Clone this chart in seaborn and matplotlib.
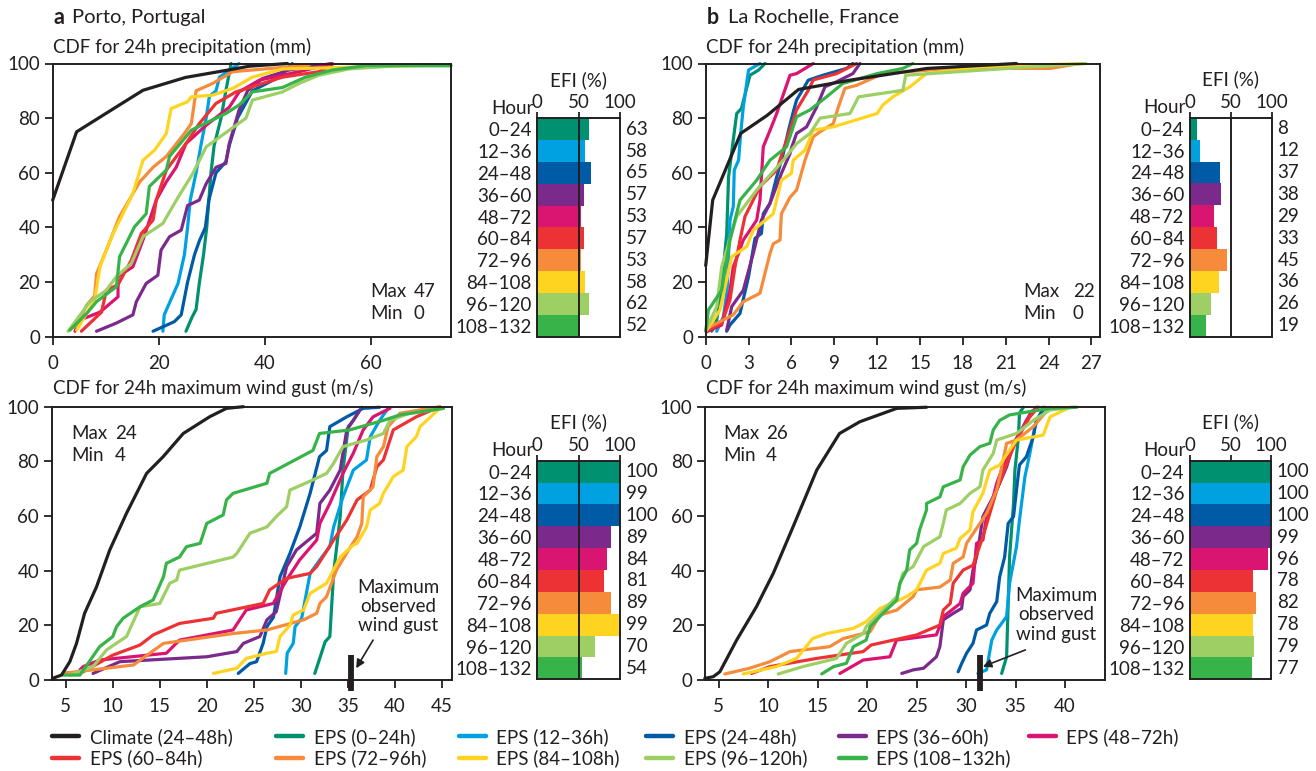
import matplotlib
matplotlib.use("Agg")
import matplotlib.pyplot as plt
from matplotlib.lines import Line2D
import pandas as pd
import seaborn as sns

# ---------------------------------------------------------------- series
SERIES = ["Climate (24–48h)", "EPS (0–24h)", "EPS (12–36h)", "EPS (24–48h)",
          "EPS (36–60h)", "EPS (48–72h)", "EPS (60–84h)", "EPS (72–96h)",
          "EPS (84–108h)", "EPS (96–120h)", "EPS (108–132h)"]
COLORS = ["#231f20", "#009270", "#00a1e1", "#005ba7", "#7b2a8c", "#da1471",
          "#ec3235", "#f68b3b", "#fed420", "#9dcf64", "#37b34a"]
HOURS = ["0–24", "12–36", "24–48", "36–60", "48–72", "60–84", "72–96",
         "84–108", "96–120", "108–132"]

# EFI values (%) per forecast window
efi_porto_precip = [63, 58, 65, 57, 53, 57, 53, 58, 62, 52]
efi_porto_gust = [100, 99, 100, 89, 84, 81, 89, 99, 70, 54]
efi_lr_precip = [8, 12, 37, 38, 29, 33, 45, 36, 26, 19]
efi_lr_gust = [100, 100, 100, 99, 96, 78, 82, 78, 79, 77]

# CDF curves: (values, cumulative %) for each series, in SERIES order
porto_precip = [
    ([0, 4.5, 10, 17, 25, 33, 37, 44.2], [50, 75, 81.7, 90.2, 94.9, 97.6, 99, 100]),
    ([25.1, 26.2, 27.0, 27.6, 28.4, 29.0, 29.4, 29.8, 30.4, 31.7, 32.6, 33.6],
     [2, 7, 10, 19.5, 30, 40, 50, 60, 70, 80, 90, 100]),
    ([20.75, 21.0, 23.6, 24.8, 25.4, 25.9, 27.0, 27.9, 28.9, 29.5, 30.75, 31.4, 35.1],
     [2, 8, 19.5, 30, 40, 50, 60, 70, 80, 88, 90, 95, 100]),
    ([18.9, 22.9, 24.2, 25.4, 26.7, 27.6, 28.75, 29.4, 30.75, 32.6, 33.25, 34.8, 37.6, 42.6, 45.1],
     [2, 5.5, 8, 20, 30, 35, 40, 50, 60, 64, 70, 80, 90, 95, 100]),
    ([8.25, 12, 15.1, 15.75, 17.6, 19.8, 20.4, 22, 24.2, 25.4, 27.6, 28.9, 30.75, 32.6, 33.25,
      35.1, 36.7, 39.5, 44.5, 52.6],
     [2, 5, 8, 12.8, 19.5, 22.5, 31.7, 36.6, 39, 48, 50, 56, 62, 63.4, 70.7, 83, 90, 94.5, 97.6, 100]),
    ([4.2, 5, 8.9, 12.3, 12.3, 15.1, 17, 19.5, 21.4, 23.25, 25.1, 28.9, 33.25, 35.1, 38.9, 46.4, 52.6],
     [2, 6, 9, 14.6, 22, 25.6, 35.4, 50, 56.7, 62, 70.7, 77.4, 84, 89.6, 93.9, 97, 100]),
    ([5.4, 9.2, 10.1, 12.3, 14.8, 16.7, 18.9, 19.5, 21.4, 25.1, 27.6, 30.75, 34.5, 37.6, 43.25, 50.1, 52.6],
     [2, 9, 17, 19, 28, 37.8, 42.7, 50, 61, 70.7, 78, 85.4, 89.6, 91.5, 95, 97, 99.4]),
    ([4.5, 6.4, 7.9, 8.25, 10.1, 12.6, 16.4, 18.9, 21.4, 24.8, 26.1, 27, 30.1, 33.9, 48.25],
     [3.7, 11.6, 15, 23, 31.7, 44, 56.7, 62, 66, 74.4, 78, 90, 92.7, 97, 99.4]),
    ([4.5, 7.9, 8.9, 11.4, 15.1, 17, 19.2, 21.4, 22.3, 25.4, 26.1, 30.1, 33.9, 37.6, 43.25, 71.4],
     [2.4, 13.4, 25.6, 37.8, 52.4, 64.6, 68.3, 74.4, 83.5, 86, 87.8, 88.4, 90.9, 95, 98, 99.4]),
    ([2.9, 7, 10.1, 12, 14.8, 17, 20.75, 23.6, 26.4, 28.9, 33.25, 36.4, 37.6, 43.25, 46.4, 50.1,
      55.75, 65.1, 75],
     [2, 12.8, 17, 22, 26.8, 36.6, 41.5, 51, 59.8, 69.5, 75.6, 80, 86.6, 89.6, 92.7, 95.7, 98, 99.2, 99.2]),
    ([3.25, 6.4, 8.25, 12, 12.6, 15.4, 17.6, 18.2, 21.4, 22, 26.1, 32.6, 35.1, 37.6, 43.25, 47.6,
      52.6, 58.9, 75],
     [2.4, 8.5, 12.8, 18.3, 29.3, 40.2, 45, 55, 61, 66, 75.6, 81.7, 84.8, 89.6, 91.2, 95, 97.6, 99.2, 99.2]),
]

lr_precip = [
    ([0, 0.49, 2.45, 4.3, 6.5, 10.1, 15.5, 21.75], [26, 50, 74.4, 81, 90.5, 93.9, 98.2, 100]),
    ([0.42, 0.77, 1.1, 1.47, 1.6, 1.93, 2.17, 2.5, 3.1, 3.7, 4.15],
     [2, 6, 17, 37.8, 58.5, 72, 81.7, 83.5, 95.7, 97.6, 100]),
    ([0.77, 1.24, 1.5, 1.7, 1.93, 2.0, 2.3, 2.45, 2.63, 3.0, 3.8],
     [2, 7.3, 17, 42.7, 47.6, 61, 64.6, 74.4, 84, 97.6, 100]),
    ([1.47, 1.7, 2.4, 3.0, 3.45, 3.9, 4.03, 4.5, 4.97, 5.43, 5.8, 6.13, 6.36, 7.18, 8.2, 9.86, 10.3],
     [2, 4.3, 8.5, 22, 36, 37.8, 45, 48.8, 58.5, 67, 75.6, 82.3, 86.6, 93.9, 95.7, 98.2, 100]),
    ([1.47, 1.82, 2.63, 3.33, 3.9, 4.5, 5.3, 5.9, 6.0, 6.36, 7.06, 7.76, 8.35, 9.16, 10.3, 10.8],
     [2.4, 11, 17, 30.5, 42.7, 48.8, 59.8, 67, 69, 74.4, 76.8, 84, 91.5, 93.3, 96.3, 100]),
    ([0.07, 1.12, 1.7, 1.93, 2.3, 2.63, 3.1, 3.57, 3.8, 4.03, 4.6, 4.97, 5.9, 6.36, 7.53],
     [1.8, 4.3, 17, 25.6, 30.5, 35.4, 39, 42.7, 50, 69.5, 76.8, 81.7, 95.7, 96.3, 100]),
    ([0.12, 1.12, 1.7, 2.05, 2.4, 2.75, 3.8, 4.97, 5.66, 6.36, 7.18, 7.53, 9.16, 10.56],
     [2.4, 4.9, 13.4, 25.6, 35.4, 44, 55, 61, 72, 83, 90.2, 94, 96.3, 100]),
    ([0.07, 1.93, 2.63, 3.8, 4.5, 4.73, 5.2, 5.3, 5.9, 6.36, 6.95, 7.53, 8.0, 8.93, 9.28, 9.74,
      10.56, 12.4, 17.1, 24.1, 26.2],
     [3, 8, 12.8, 15.9, 30.5, 34, 35.4, 45, 51, 53.7, 64.6, 73.2, 75, 78, 84, 90.9, 92, 96.3,
      98.2, 98.2, 100]),
    ([0.07, 1.0, 1.82, 2.87, 3.33, 4.73, 5.3, 6.0, 6.13, 6.95, 7.53, 8.93, 12.0, 12.4, 13.1,
      14.3, 15.45, 19.4, 26.4],
     [2.4, 9.8, 29.3, 33, 39, 45, 57.3, 59.8, 64.6, 68.3, 75.6, 76.8, 81.7, 84.8, 87.8, 91.5,
      96.3, 98.8, 100]),
    ([0, 0.77, 1.12, 2.17, 3.57, 5.43, 6.36, 7.3, 8.0, 10.1, 10.7, 13.8, 14.0, 19.4, 26.6],
     [2.4, 11, 25.6, 44, 53.7, 64.6, 70.7, 74.4, 80, 81.7, 87.8, 90.2, 95.7, 97.6, 100]),
    ([0, 0.19, 1.12, 1.7, 2.4, 3.57, 4.5, 5.66, 6.36, 7.3, 8.46, 9.6, 12.0, 13.8, 14.5],
     [2, 9.8, 17, 35.4, 50, 57.3, 64.6, 69.5, 80.5, 83, 87.8, 92.7, 96.3, 98.2, 100]),
]

porto_gust = [
    ([3.58, 4.54, 5.43, 6.14, 7.0, 8.26, 9.68, 11.46, 13.6, 15.36, 17.5, 20.3, 22.1, 23.9],
     [0.6, 1.8, 6.7, 13.4, 24.4, 34, 47.6, 61, 75.6, 81.7, 90.2, 96.3, 99.4, 100]),
    ([31.5, 32.6, 33.1, 33.5, 34.2, 34.5, 35.06, 35.6, 36.5],
     [2.4, 14, 15.9, 39, 59.8, 76.8, 92.7, 95, 99.8]),
    ([28.4, 28.56, 29.2, 29.4, 30.1, 31.0, 32.04, 33.1, 33.5, 34.5, 35.6, 37.0, 37.4, 38.4, 39.3],
     [2.4, 9.8, 13.4, 19.5, 22.6, 39, 44, 48.8, 56, 67, 76.8, 80.5, 89, 95, 99.4]),
    ([23.35, 24.6, 25.3, 26.0, 26.4, 27.1, 27.8, 28.85, 29.9, 31.0, 32.0, 32.75, 33.1, 34.9, 36.65, 38.4],
     [2.4, 6, 6.7, 13.4, 19.5, 23, 37.8, 46.3, 56, 68.3, 81.7, 84, 92.7, 96.3, 99.4, 99.8]),
    ([7.9, 10.75, 20.0, 23.2, 23.9, 25.65, 26.4, 27.4, 28.5, 29.55, 31.7, 32.04, 33.1, 34.2,
      34.9, 35.6, 36.3],
     [2.4, 6.7, 8.5, 10.4, 13.4, 15.9, 22, 25, 41.5, 47.6, 53.7, 64.6, 69.5, 76.8, 91.5, 95, 98.8]),
    ([6.5, 6.85, 8.6, 15.7, 17.1, 22.8, 24.2, 27.07, 28.5, 29.9, 31.7, 32.04, 33.1, 34.5, 35.6,
      36.65, 37.7, 39.5],
     [3.7, 4.9, 7.3, 9.8, 14.6, 18.3, 25.6, 28, 36.6, 44, 51.2, 57.3, 64.6, 75.6, 83, 91.5, 96.3, 99.4]),
    ([4.7, 6.85, 10.0, 12.9, 14.3, 17.1, 20.7, 21.0, 26.0, 26.7, 28.5, 31.0, 31.7, 33.5, 34.9,
      36.0, 37.4, 38.1, 38.8, 39.85, 42.3, 44.8],
     [2.4, 3, 9.1, 12.8, 16.5, 20.7, 22.6, 24.4, 28, 33, 37.2, 39, 41.5, 51.2, 58.5, 65.9, 69.5,
      78, 80.5, 91.5, 96.3, 100]),
    ([4.7, 12.2, 15.4, 22.8, 26.4, 30.3, 31.7, 32.04, 32.75, 33.8, 35.2, 36.0, 36.5, 36.65, 37.7,
      38.1, 38.8, 39.3, 40.56, 44.8],
     [2.4, 5.5, 13.4, 17, 18.3, 22, 24.4, 28, 30.5, 40.2, 48.2, 52.4, 57.3, 67, 70.7, 81.7, 85.4,
      92.7, 97.6, 100]),
    ([20.7, 23.2, 24.2, 26.4, 27.4, 27.8, 28.85, 29.2, 30.3, 31.0, 32.75, 34.2, 35.6, 36.0, 37.0,
      37.4, 38.4, 38.8, 39.85, 40.9, 41.3, 42.3, 42.7, 44.8],
     [2.4, 4.3, 7.9, 9.8, 10.4, 15.9, 20, 23.8, 25.6, 31.7, 35.4, 45, 49.4, 50, 56, 62.2, 64.6,
      68.3, 74.4, 76.8, 85.4, 89, 92.7, 99.4]),
    ([5.43, 7.9, 9.33, 11.46, 12.9, 15.0, 16.07, 16.8, 17.1, 22.8, 23.2, 24.6, 26.4, 27.4, 28.5,
      28.85, 31.3, 32.75, 33.5, 34.5, 37.0, 38.8, 39.5, 41.6, 45.2],
     [1.8, 4.9, 11, 15.9, 26.8, 28, 35.4, 36.6, 40.2, 45, 46.3, 53.7, 56, 59.8, 63.4, 69.5, 73.2,
      75.6, 79.3, 85.4, 87.8, 90.2, 95, 97.6, 99.4]),
    ([4.7, 6.5, 8.6, 10.0, 10.4, 11.1, 12.9, 14.3, 15.4, 15.7, 17.1, 17.85, 19.3, 20.0, 21.75,
      22.1, 22.8, 26.4, 26.7, 31.3, 32.0, 35.2, 38.8, 40.56, 45.2],
     [1.8, 1.8, 12.2, 15.9, 19.5, 22.6, 26.8, 29.3, 37.8, 42.7, 45, 48.8, 50, 57.3, 60.4, 65.9,
      68.3, 72, 75.6, 84, 90.2, 91.5, 95, 97, 99.4]),
]

lr_gust = [
    ([3.58, 4.43, 5.1, 6.8, 8.8, 10.5, 12.5, 14.9, 17.2, 19.26, 23.0, 26.0],
     [0.6, 1.2, 3, 14.6, 26.8, 39, 56, 76.8, 90.2, 94.5, 99.4, 99.8]),
    ([33.6, 34.1, 34.4, 34.8, 34.94, 35.3, 35.4, 35.8],
     [2.4, 8.5, 45, 64.6, 76.8, 89, 97.6, 99.8]),
    ([31.2, 32.07, 32.6, 33.1, 34.1, 34.4, 35.1, 35.4, 35.95, 36.45, 36.96, 37.8],
     [2.4, 3.7, 14.6, 18.3, 23.2, 35.4, 48.8, 58.5, 74.4, 82.9, 92.7, 99.8]),
    ([29.2, 29.55, 30.05, 30.7, 31.06, 32.07, 32.4, 33.1, 33.4, 33.9, 34.26, 34.8, 35.1, 35.4,
      36.1, 36.8, 37.1, 37.97],
     [3, 6, 9.8, 13.4, 18.3, 20.1, 24.4, 28.7, 37.8, 45, 57.3, 59.8, 69.5, 78.7, 81.7, 89, 95, 99.8]),
    ([23.5, 24.65, 25.7, 27.0, 27.35, 27.7, 28.7, 29.55, 29.7, 30.4, 30.7, 31.06, 31.4, 31.7,
      33.1, 34.1, 34.8, 35.8, 36.6, 37.3],
     [2.4, 3.7, 4.3, 8.5, 12.2, 22, 24.4, 26.2, 30.5, 33, 40.2, 45, 52.4, 59.8, 69.5, 78, 86.6,
      92.7, 98.2, 99.8]),
    ([17.24, 19.6, 22.3, 22.97, 27.0, 27.7, 29.4, 29.7, 30.7, 31.06, 31.7, 32.07, 32.75, 33.1,
      34.1, 35.1, 36.1, 37.1],
     [2.4, 7.3, 8.5, 14.6, 16.5, 23.2, 28, 31.7, 35.4, 50, 51.2, 59.8, 67, 72, 81.7, 87.8, 95, 99.8]),
    ([8.3, 10.16, 14.9, 19.6, 20.4, 25.0, 27.35, 27.7, 28.4, 28.7, 29.7, 30.7, 31.7, 33.1, 34.4,
      35.1, 36.45, 37.3],
     [2.4, 4.9, 7.9, 10.4, 12.8, 16.5, 20.1, 25.6, 28, 35.4, 40.2, 42, 52.4, 69.5, 81.7, 87.8, 96.3, 99.8]),
    ([5.6, 8.1, 10.16, 12.2, 16.2, 17.6, 19.6, 20.3, 21.3, 23.0, 24.65, 25.0, 27.35, 28.4, 28.7,
      29.7, 30.05, 31.4, 32.07, 33.1, 33.4, 34.1, 35.1, 36.8, 38.5],
     [2.2, 4.3, 6.7, 10.4, 12.2, 15.2, 17, 17.7, 23.8, 25.6, 30.5, 33, 34, 36.6, 42.7, 45, 50,
      57.3, 61, 69.5, 74.4, 86.6, 87.8, 92.7, 99.8]),
    ([7.46, 10.8, 12.86, 14.5, 15.9, 18.6, 19.9, 21.3, 24.0, 25.0, 26.0, 27.35, 27.7, 29.0, 29.4,
      30.4, 30.7, 31.7, 32.4, 33.4, 35.1, 37.8, 38.5, 40.5],
     [2.2, 4.9, 7.9, 15.2, 17, 18.9, 21.3, 26.2, 30.5, 33, 40.2, 42.7, 46.3, 48.2, 51.8, 54.9,
      61.6, 68.3, 76.8, 78.7, 87.8, 89.6, 96.3, 99.8]),
    ([11.0, 13.5, 16.9, 17.9, 19.6, 19.9, 23.0, 23.6, 24.65, 25.7, 27.35, 27.7, 28.0, 29.4, 30.4,
      31.4, 31.7, 32.75, 33.1, 34.1, 35.1, 36.8, 38.5, 40.8],
     [2.2, 4.9, 7.9, 13.4, 17, 19.5, 30.5, 39, 41.5, 48.8, 52.4, 57.3, 62.2, 64.6, 68.3, 70.7,
      76.8, 82.9, 87.8, 89, 90.2, 95, 98.8, 99.8]),
    ([15.4, 16.6, 17.9, 18.6, 19.9, 20.3, 21.6, 23.0, 23.3, 24.0, 24.3, 25.0, 25.3, 26.0, 26.0,
      27.35, 27.7, 29.4, 29.7, 30.4, 31.4, 32.4, 32.75, 33.4, 34.4, 36.45, 38.5, 41.2],
     [2.2, 4.9, 6.1, 12.2, 14.6, 19.5, 24.4, 29.3, 35.4, 40.2, 47.6, 50, 54.9, 62.2, 64.6, 67,
      70.7, 73.2, 78, 82.3, 85.4, 86.6, 91.5, 95, 97, 98.2, 99.4, 99.8]),
]

# observed maximum gusts (m/s)
obs_gust_porto = 35.3
obs_gust_lr = 31.4

# ---------------------------------------------------------------- style
sns.set_style("ticks")
plt.rcParams["font.family"] = ["Lato", "DejaVu Sans"]
INK = "#231f20"
FS = 13.5
plt.rcParams.update({
    "axes.edgecolor": INK, "axes.linewidth": 1.4,
    "xtick.color": INK, "ytick.color": INK,
    "xtick.labelcolor": INK, "ytick.labelcolor": INK,
    "xtick.major.width": 1.3, "ytick.major.width": 1.3,
    "xtick.major.size": 6, "ytick.major.size": 6,
    "xtick.labelsize": FS, "ytick.labelsize": FS,
    "text.color": INK,
})

W, H = 1316, 771
fig = plt.figure(figsize=(W / 100, H / 100), dpi=100)


def add_ax(x0, y0, x1, y1):
    return fig.add_axes([x0 / W, 1 - y1 / H, (x1 - x0) / W, (y1 - y0) / H])


palette = dict(zip(SERIES, COLORS))


def cdf_panel(ax, curves, xlim, xticks):
    rows = []
    for name, (xs, ys) in zip(SERIES, curves):
        for i, (xv, yv) in enumerate(zip(xs, ys)):
            rows.append((name, i, xv, yv))
    df = pd.DataFrame(rows, columns=["series", "step", "value", "cdf"])
    # climate drawn last so it sits on top
    order = SERIES[1:] + SERIES[:1]
    df["series"] = pd.Categorical(df["series"], categories=order, ordered=True)
    df = df.sort_values(["series", "step"])
    sns.lineplot(data=df, x="value", y="cdf", hue="series", hue_order=order,
                 palette=palette, sort=False, estimator=None, legend=False,
                 linewidth=2.3, clip_on=False, ax=ax)
    ax.set_xlim(*xlim)
    ax.set_ylim(0, 100)
    ax.set_xticks(xticks)
    ax.set_yticks(range(0, 101, 20))
    ax.set_xlabel("")
    ax.set_ylabel("")
    for s in ax.spines.values():
        s.set_visible(True)
    ax.tick_params(axis="y", direction="out", pad=3)
    ax.tick_params(axis="x", direction="out", pad=7)


def efi_panel(ax, values, line_on_top=True):
    sns.barplot(x=values, y=HOURS, hue=HOURS, palette=COLORS[1:], orient="h",
                width=1.0, saturation=1, legend=False, ax=ax, linewidth=0)
    ax.set_xlim(0, 100)
    ax.set_ylim(9.5, -0.5)
    ax.axvline(50, color=INK, lw=1.4, zorder=5 if line_on_top else 0.5)
    ax.xaxis.tick_top()
    ax.set_xticks([0, 50, 100])
    ax.tick_params(axis="x", direction="out", length=4, pad=1)
    ax.tick_params(axis="y", length=0, pad=4)
    ax.set_xlabel("")
    ax.set_ylabel("")
    for s in ax.spines.values():
        s.set_visible(True)
    tr = ax.get_yaxis_transform()
    for i, v in enumerate(values):
        ax.text(1.07, i, f"{v}", transform=tr, ha="left", va="center", fontsize=FS)
    ax.text(-0.05, -0.95, "Hour", transform=tr, ha="right", va="center", fontsize=FS)
    ax.text(0.5, 1.135, "EFI (%)", transform=ax.transAxes, ha="center", va="bottom", fontsize=FS)


def maxmin(ax, x_lab, x_val, y_max, y_min, vmax, vmin):
    ax.text(x_lab, y_max, "Max", ha="left", va="center", fontsize=FS)
    ax.text(x_val, y_max, f"{vmax}", ha="left", va="center", fontsize=FS)
    ax.text(x_lab, y_min, "Min", ha="left", va="center", fontsize=FS)
    ax.text(x_val, y_min, f"{vmin}", ha="left", va="center", fontsize=FS)


def observed(ax, xobs, text_xy, arrow_from, arrow_to):
    ax.plot([xobs, xobs], [9.0, -4.2], color=INK, lw=4.2, solid_capstyle="butt",
            clip_on=False, zorder=6)
    ax.annotate("", xy=arrow_to, xytext=arrow_from,
                arrowprops=dict(arrowstyle="-|>,head_length=0.5,head_width=0.25",
                                color=INK, lw=1.2, shrinkA=0, shrinkB=0), zorder=6)
    ax.text(*text_xy, "Maximum\nobserved\nwind gust", ha="center", va="center",
            fontsize=FS, linespacing=1.15)


# ---------------------------------------------------------------- panels
ax1 = add_ax(52.7, 63.5, 451, 336.7)
cdf_panel(ax1, porto_precip, (0, 75), [0, 20, 40, 60])
maxmin(ax1, 59.8, 67.9, 16.5, 8.5, 47, 0)

ax2 = add_ax(705.7, 63.5, 1100, 336.7)
cdf_panel(ax2, lr_precip, (0, 27.6), list(range(0, 28, 3)))
maxmin(ax2, 22.2, 25.7, 16.5, 8.5, 22, 0)

ax3 = add_ax(51.7, 406.7, 452, 680)
cdf_panel(ax3, porto_gust, (3.5, 46.1), list(range(5, 46, 5)))
maxmin(ax3, 5.6, 10.2, 90.2, 82.3, 24, 4)
observed(ax3, obs_gust_porto, (40.4, 26.8), (37.7, 14.6), (35.9, 4.3))

ax4 = add_ax(705, 406.7, 1105, 680)
cdf_panel(ax4, lr_gust, (3.6, 44.05), list(range(5, 41, 5)))
maxmin(ax4, 5.44, 9.75, 90.2, 82.3, 26, 4)
observed(ax4, obs_gust_lr, (39.15, 23.8), (36.0, 11.0), (31.7, 4.9))

e1 = add_ax(537.3, 118.3, 620, 336.7)
efi_panel(e1, efi_porto_precip)
e2 = add_ax(1190, 117.7, 1271.7, 336.7)
efi_panel(e2, efi_lr_precip)
e3 = add_ax(537.3, 460.7, 620, 679.3)
efi_panel(e3, efi_porto_gust)
e4 = add_ax(1190, 460.7, 1271, 679.3)
efi_panel(e4, efi_lr_gust, line_on_top=False)

# ---------------------------------------------------------------- titles
fig.text(53 / W, 1 - 17 / H, "a", fontsize=FS + 2, fontweight="bold", ha="left", va="center")
fig.text(72 / W, 1 - 17 / H, "Porto, Portugal", fontsize=FS + 1, ha="left", va="center")
fig.text(707 / W, 1 - 17 / H, "b", fontsize=FS + 2, fontweight="bold", ha="left", va="center")
fig.text(728 / W, 1 - 17 / H, "La Rochelle, France", fontsize=FS + 1, ha="left", va="center")
for x0 in (53, 706):
    fig.text(x0 / W, 1 - 47 / H, "CDF for 24h precipitation (mm)", fontsize=FS,
             ha="left", va="center")
    fig.text(x0 / W, 1 - 388 / H, "CDF for 24h maximum wind gust (m/s)", fontsize=FS,
             ha="left", va="center")

# ---------------------------------------------------------------- legend
columns = [[0, 6], [1, 7], [2, 8], [3, 9], [4, 10], [5]]
col_x = [52, 276, 459, 646, 839, 1029]
for cx, idx in zip(col_x, columns):
    handles = [Line2D([], [], color=COLORS[i], lw=3.2) for i in idx]
    labels = [SERIES[i] for i in idx]
    fig.legend(handles, labels, loc="upper left", bbox_to_anchor=(cx / W, 1 - 728 / H),
               frameon=False, fontsize=FS, handlelength=1.45, handletextpad=0.55,
               labelspacing=0.2, borderpad=0, borderaxespad=0)

fig.savefig("out.png", dpi=100)
